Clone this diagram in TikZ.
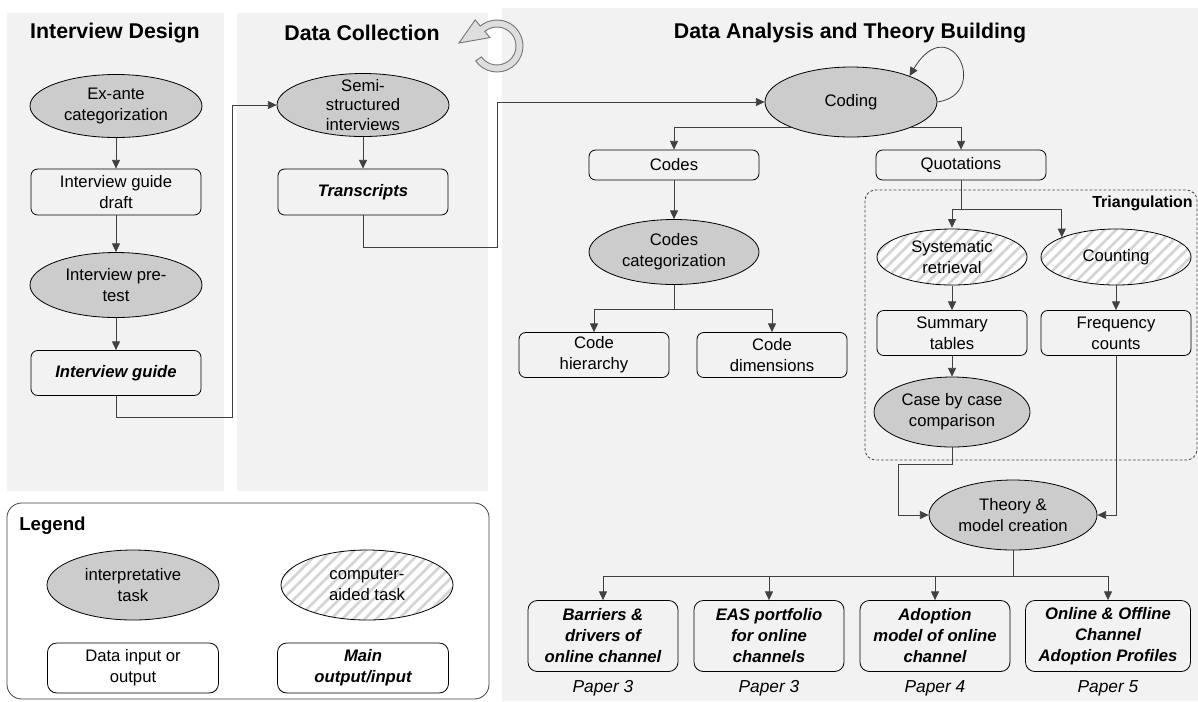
\documentclass[tikz,border=0pt]{standalone}
\usepackage{fontspec}
\setmainfont{Liberation Sans}
\usetikzlibrary{shapes.geometric,arrows.meta,patterns.meta,calc}
\definecolor{panelbg}{RGB}{242,242,242}
\definecolor{taskfill}{RGB}{204,204,204}
\definecolor{linec}{RGB}{64,64,64}
\definecolor{hatchc}{RGB}{212,212,212}
\definecolor{iconfill}{RGB}{222,222,222}
\definecolor{icondraw}{RGB}{120,120,120}
\begin{document}
\begin{tikzpicture}[x=0.75pt,y=-0.75pt,
  >={Triangle[length=6.5pt,width=6pt]},
  base/.style={font=\fontsize{12.5}{15.75}\selectfont, align=center, inner sep=0pt, line width=0.6pt, draw=black},
  task/.style={base, ellipse, fill=taskfill},
  comp/.style={base, ellipse, preaction={fill=white}, pattern={Lines[angle=45,distance=6pt,line width=2pt]}, pattern color=hatchc},
  databox/.style={base, rectangle, rounded corners=5pt},
  mainbox/.style={databox, font=\fontsize{12.5}{15.75}\selectfont\bfseries\itshape},
  outbox/.style={mainbox, rounded corners=7pt, minimum height=53.25pt},
  conn/.style={draw=linec, line width=0.6pt},
  ptitle/.style={font=\fontsize{16}{19}\selectfont\bfseries, inner sep=0pt},
  paper/.style={font=\fontsize{13}{15}\selectfont\itshape, inner sep=0pt},
  txtonly/.style={font=\fontsize{12.5}{14.5}\selectfont, align=center, inner sep=0pt}
]
\useasboundingbox (0,0) rectangle (1198,701);
% panels
\fill[panelbg] (7,13) rectangle (224,491);
\fill[panelbg] (237,13) rectangle (488,491);
\fill[panelbg] (502,8) rectangle (1198,701);
% legend frame
\draw[linec, line width=0.6pt, fill=white, rounded corners=11pt] (7,503) rectangle (489,699);

% titles
\node[ptitle] (t1) at (115,33) {Interview Design};
\node[ptitle] (t2) at (362,33) {Data Collection};
\node[ptitle] (t3) at (850,33) {Data Analysis and Theory Building};

% cycle icon
\begin{scope}[shift={(497,46)}, yscale=-1]
\filldraw[fill=iconfill, draw=icondraw, line width=0.7pt]
  (215:26) arc[start angle=215, end angle=490, radius=26]
  -- (130:34) -- (-38,3) -- (130:11) -- (130:19)
  arc[start angle=490, end angle=215, radius=19] -- cycle;
\end{scope}

% Interview design
\node[task, minimum width=129pt, minimum height=47.25pt] (exante) at (116,106) {Ex-ante\\categorization};
\node[databox, minimum width=127.5pt, minimum height=34.5pt] (igd) at (116,192) {Interview guide\\draft};
\node[task, minimum width=129pt, minimum height=48.75pt] (pretest) at (116,285) {Interview pre-\\test};
\node[mainbox, minimum width=127.5pt, minimum height=33.75pt] (ig) at (116,373) {Interview guide};

% Data collection
\node[task, minimum width=129pt, minimum height=47.25pt] (semi) at (363,105) {};
\node[txtonly] (semitxt) at (363,105) {Semi-\\structured\\interviews};
\node[mainbox, minimum width=127.5pt, minimum height=34.5pt] (tr) at (363,192) {Transcripts};

% Data analysis
\node[task, minimum width=129pt, minimum height=52.5pt] (coding) at (851,102) {Coding};
\node[databox, minimum width=127.5pt, minimum height=22.5pt] (codes) at (674,165) {Codes};
\node[databox, minimum width=127.5pt, minimum height=22.5pt] (quot) at (961,165) {Quotations};
\node[task, minimum width=127.5pt, minimum height=48.75pt] (cc) at (674,252) {Codes\\categorization};
\node[databox, minimum width=112.5pt, minimum height=33.75pt] (ch) at (594,355) {Code\\hierarchy};
\node[databox, minimum width=112.5pt, minimum height=33.75pt] (cd) at (772,355) {Code\\dimensions};

% triangulation
\draw[linec, line width=0.6pt, dash pattern=on 2pt off 1.5pt, rounded corners=8pt] (865,190) rectangle (1197,460);
\node[font=\fontsize{12}{14}\selectfont\bfseries, inner sep=0pt, anchor=east] (tri) at (1193,203) {Triangulation};
\node[comp, minimum width=112.5pt, minimum height=42pt] (sr) at (952,257) {Systematic\\retrieval};
\node[comp, minimum width=112.5pt, minimum height=42pt] (cnt) at (1116,257) {Counting};
\node[databox, minimum width=112.5pt, minimum height=33.75pt] (st) at (952,333) {Summary\\tables};
\node[databox, minimum width=112.5pt, minimum height=33.75pt] (fc) at (1116,333) {Frequency\\counts};
\node[task, minimum width=117pt, minimum height=52.5pt] (case) at (952,412) {Case by case\\comparison};
\node[task, minimum width=126pt, minimum height=52.5pt] (theory) at (1013,515) {Theory \&\\model creation};

% outputs
\node[outbox, minimum width=112.5pt] (o1) at (603,636) {Barriers \&\\drivers of\\online channel};
\node[outbox, minimum width=112.5pt] (o2) at (769,636) {EAS portfolio\\for online\\channels};
\node[outbox, minimum width=112.5pt] (o3) at (935,636) {Adoption\\model of online\\channel};
\node[outbox, minimum width=123.75pt] (o4) at (1108,636) {Online \& Offline\\Channel\\Adoption Profiles};
\node[paper] (p1) at (603,688) {Paper 3};
\node[paper] (p2) at (769,688) {Paper 3};
\node[paper] (p3) at (935,688) {Paper 4};
\node[paper] (p4) at (1108,688) {Paper 5};

% legend
\node[font=\fontsize{14}{16}\selectfont\bfseries, inner sep=0pt, anchor=west] (leg) at (19,526) {Legend};
\node[task, minimum width=129pt, minimum height=52.5pt] (l1) at (133,585) {interpretative\\task};
\node[comp, minimum width=129pt, minimum height=52.5pt] (l2) at (367,585) {computer-\\aided task};
\node[databox, rounded corners=7pt, minimum width=128.25pt, minimum height=37.5pt] (l3) at (133,668) {Data input or\\output};
\node[mainbox, rounded corners=7pt, minimum width=128.25pt, minimum height=37.5pt] (l4) at (363,668) {Main\\output/input};

% connectors
\draw[conn,->] (exante) -- (igd);
\draw[conn,->] (igd) -- (pretest);
\draw[conn,->] (pretest) -- (ig);
\coordinate (j1) at (232,417);
\draw[conn,->] (ig.south) |- (j1) |- (semi.west);
\draw[conn,->] (semi) -- (tr);
\coordinate (j2) at (497,247);
\draw[conn,->] (tr.south) |- (j2) |- (coding.west);
\draw[conn,->] (coding.203) -| (codes.north);
\draw[conn,->] (coding.337) -| (quot.north);
\draw[conn,->] (coding.east) .. controls (992,94) and (950,8) .. (coding.24);
\draw[conn,->] (codes) -- (cc);
\coordinate (j3) at (674,309);
\draw[conn] (cc.south) -- (j3);
\draw[conn,->] (j3) -| (ch.north);
\draw[conn,->] (j3) -| (cd.north);
\coordinate (j4) at (961,209);
\draw[conn] (quot.south) -- (j4);
\draw[conn,->] (j4) -| (sr.north);
\draw[conn,->] (j4) -| (cnt.160);
\draw[conn,->] (sr) -- (st);
\draw[conn,->] (cnt) -- (fc);
\draw[conn,->] (st) -- (case);
\coordinate (j5) at (898,464);
\draw[conn,->] (case.south) |- (j5) |- (theory.west);
\draw[conn,->] (fc.south) |- (theory.east);
\coordinate (j6) at (1013,576);
\draw[conn] (theory.south) -- (j6);
\draw[conn,->] (j6) -| (o1.north);
\draw[conn,->] (j6) -| (o2.north);
\draw[conn,->] (j6) -| (o3.north);
\draw[conn,->] (j6) -| (o4.north);
\end{tikzpicture}
\end{document}
